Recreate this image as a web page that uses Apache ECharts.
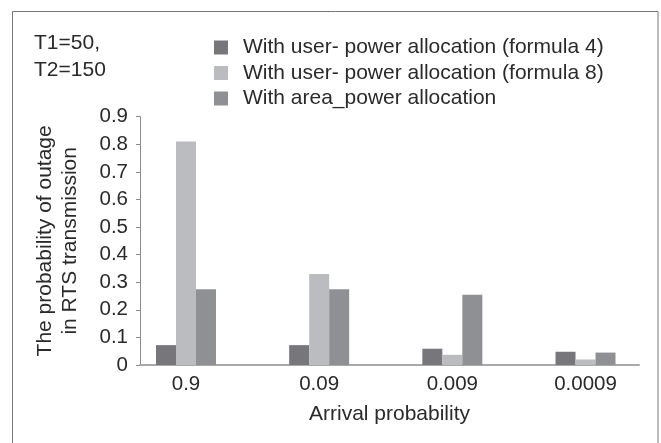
<!DOCTYPE html>
<html>
<head>
<meta charset="utf-8">
<script src="https://cdn.jsdelivr.net/npm/echarts@6/dist/echarts.min.js"></script>
<style>
html,body{margin:0;padding:0;background:#fff;}
#chart{width:661px;height:443px;}
</style>
</head>
<body>
<div id="chart"></div>
<script>
var categories = ['0.9', '0.09', '0.009', '0.0009'];
var seriesNames = ['With user- power allocation (formula 4)', 'With user- power allocation (formula 8)', 'With area_power allocation'];
var formula4 = [0.072, 0.072, 0.059, 0.048];
var formula8 = [0.81, 0.33, 0.037, 0.02];
var areaPower = [0.275, 0.275, 0.255, 0.045];
var yTicks = [0, 0.1, 0.2, 0.3, 0.4, 0.5, 0.6, 0.7, 0.8, 0.9];
var annotation = 'T1=50,\nT2=150';
var xName = 'Arrival probability';
var yName = 'The probability of outage\nin RTS transmission';

var colors = ['#77777b', '#bbbcc0', '#8f9094'];
var FONT = '"Liberation Sans", Arial, sans-serif';
var TXT = '#2a2a2a';

var chart = echarts.init(document.getElementById('chart'), null, {renderer: 'canvas'});
var gridTop = 116.7, gridBottom = 78;
chart.setOption({
  animation: false,
  backgroundColor: '#fff',
  color: colors,
  textStyle: {fontFamily: FONT},
  graphic: [
    {type: 'rect', shape: {x: 12.5, y: 11.5, width: 645.5, height: 445}, style: {fill: 'none', stroke: '#777', lineWidth: 1}, silent: true},
    {type: 'text', left: 34, top: 30, style: {text: annotation, font: '21px ' + FONT, fill: TXT, lineHeight: 27}}
  ],
  legend: {
    orient: 'vertical', left: 209, top: 32,
    itemWidth: 14, itemHeight: 14, itemGap: 4.5,
    icon: 'rect',
    data: seriesNames,
    textStyle: {fontSize: 21, color: TXT, fontFamily: FONT, lineHeight: 21, padding: [0, 0, 0, 10]}
  },
  grid: [
    {left: 140, right: 22, top: gridTop, bottom: gridBottom},
    {left: 119.4, right: 8.9, top: gridTop, bottom: gridBottom}
  ],
  xAxis: [
    {type: 'category', gridIndex: 0, data: categories,
     axisLine: {lineStyle: {color: '#a9a9ab', width: 2}}, axisTick: {show: false}, axisLabel: {show: false},
     name: xName, nameLocation: 'middle', nameGap: 39,
     nameTextStyle: {fontSize: 21, color: TXT, fontFamily: FONT}},
    {type: 'category', gridIndex: 1, data: categories,
     axisLine: {show: false}, axisTick: {show: false},
     axisLabel: {fontSize: 20.5, color: TXT, fontFamily: FONT, margin: 9}}
  ],
  yAxis: [
    {type: 'value', gridIndex: 0, min: 0, max: 0.9, interval: 0.1,
     axisLine: {show: true, lineStyle: {color: '#8a8a8a', width: 1}},
     axisTick: {show: true, length: 4, lineStyle: {color: '#8a8a8a'}},
     splitLine: {show: false},
     axisLabel: {fontSize: 20.5, color: TXT, fontFamily: FONT, margin: 12,
       formatter: function (v) { var r = Math.round(v * 10) / 10; return yTicks.indexOf(r) >= 0 ? String(r) : ''; }},
     name: yName, nameLocation: 'middle', nameGap: 57, nameRotate: 90,
     nameTextStyle: {fontSize: 21, color: TXT, fontFamily: FONT, lineHeight: 25, align: 'center'}},
    {type: 'value', gridIndex: 1, min: 0, max: 0.9, interval: 0.1, show: false, splitLine: {show: false}}
  ],
  series: [
    {name: seriesNames[0], type: 'bar', xAxisIndex: 1, yAxisIndex: 1, data: formula4, barWidth: 20, barGap: '0%', itemStyle: {color: colors[0]}},
    {name: seriesNames[1], type: 'bar', xAxisIndex: 1, yAxisIndex: 1, data: formula8, barWidth: 20, barGap: '0%', itemStyle: {color: colors[1]}},
    {name: seriesNames[2], type: 'bar', xAxisIndex: 1, yAxisIndex: 1, data: areaPower, barWidth: 20, barGap: '0%', itemStyle: {color: colors[2]}}
  ]
});
</script>
</body>
</html>
